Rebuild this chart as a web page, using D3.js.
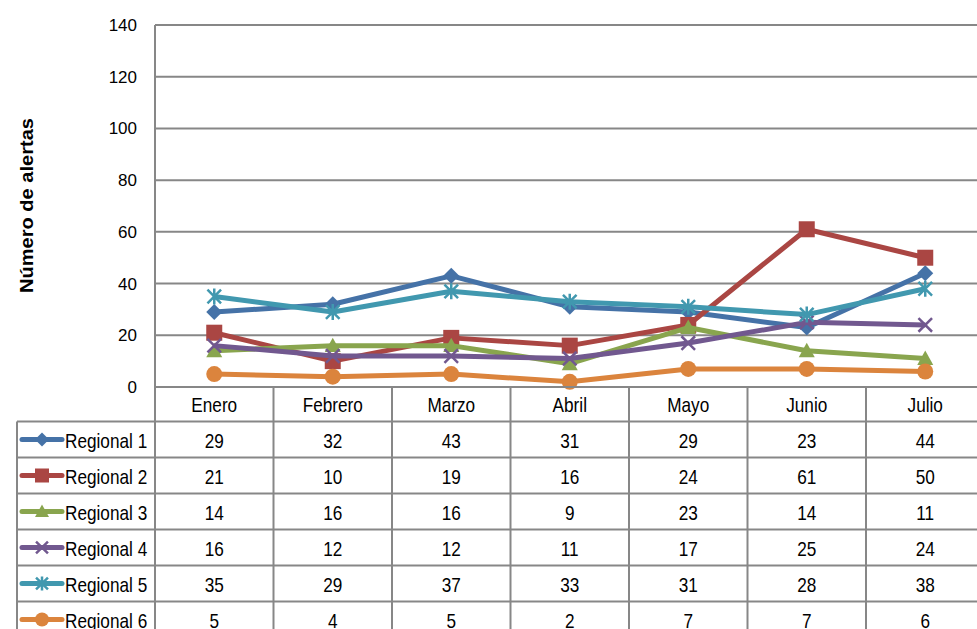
<!DOCTYPE html>
<html>
<head>
<meta charset="utf-8">
<script src="https://d3js.org/d3.v7.min.js"></script>
<style>
  body { margin: 0; background: #fff; }
  text { font-family: "Liberation Sans", Arial, sans-serif; fill: #000; }
</style>
</head>
<body>
<div id="chart"></div>
<script>
const months = ["Enero", "Febrero", "Marzo", "Abril", "Mayo", "Junio", "Julio"]
const seriesNames = ["Regional 1", "Regional 2", "Regional 3", "Regional 4", "Regional 5", "Regional 6"]
const regional1 = [29, 32, 43, 31, 29, 23, 44]
const regional2 = [21, 10, 19, 16, 24, 61, 50]
const regional3 = [14, 16, 16, 9, 23, 14, 11]
const regional4 = [16, 12, 12, 11, 17, 25, 24]
const regional5 = [35, 29, 37, 33, 31, 28, 38]
const regional6 = [5, 4, 5, 2, 7, 7, 6]
const yTicks = [0, 20, 40, 60, 80, 100, 120, 140]
const yTitle = "Número de alertas"

const colors = ["#4572A7", "#AA4643", "#89A54E", "#71588F", "#4198AF", "#DB843D"]
const shapes = ["diamond", "square", "triangle", "x", "star", "circle"]
const allValues = [regional1, regional2, regional3, regional4, regional5, regional6]
const series = seriesNames.map((name, i) => ({ name, values: allValues[i], color: colors[i], shape: shapes[i] }))

const W = 977, H = 629
const plotLeft = 155, colW = 118.5
const plotTop = 25, plotBottom = 387
const headerH = 34.5, rowH = 36
const tableLeft = 17
const gridColor = "#878787"
const narrow = 0.86   // squeeze table text like Arial Narrow

const svg = d3.select("#chart").append("svg").attr("width", W).attr("height", H)

const x = d3.scaleBand().domain(months).range([plotLeft, plotLeft + colW * months.length])
const y = d3.scaleLinear().domain([0, 140]).range([plotBottom, plotTop])
const rightEdge = plotLeft + colW * months.length

// gridlines
svg.append("g").selectAll("line").data(yTicks.filter(d => d > 0)).join("line")
  .attr("x1", plotLeft).attr("x2", rightEdge)
  .attr("y1", d => y(d)).attr("y2", d => y(d))
  .attr("stroke", gridColor).attr("stroke-width", 2)

svg.append("line").attr("x1", plotLeft).attr("x2", plotLeft).attr("y1", plotTop).attr("y2", plotBottom)
  .attr("stroke", gridColor).attr("stroke-width", 2)

// y tick labels
svg.append("g").selectAll("text").data(yTicks).join("text")
  .attr("x", 137).attr("y", d => y(d)).attr("dy", "0.35em")
  .attr("text-anchor", "end").attr("font-size", 17).attr("fill", "#222").text(d => d)

svg.append("text")
  .attr("transform", `translate(33,${(118 + 293) / 2}) rotate(-90)`)
  .attr("text-anchor", "middle").attr("font-size", 18).attr("font-weight", "bold")
  .attr("textLength", 175).attr("lengthAdjust", "spacingAndGlyphs")
  .text(yTitle)

function drawMarker(g, shape, color, cx, cy, s) {
  if (shape === "diamond") {
    g.append("path").attr("d", `M${cx},${cy - s}L${cx + s},${cy}L${cx},${cy + s}L${cx - s},${cy}Z`).attr("fill", color)
  } else if (shape === "square") {
    g.append("rect").attr("x", cx - s).attr("y", cy - s).attr("width", 2 * s).attr("height", 2 * s).attr("fill", color)
  } else if (shape === "triangle") {
    g.append("path").attr("d", `M${cx},${cy - s}L${cx + s},${cy + s * 0.8}L${cx - s},${cy + s * 0.8}Z`).attr("fill", color)
  } else if (shape === "x") {
    const k = s * 0.85
    g.append("path").attr("d", `M${cx - k},${cy - k}L${cx + k},${cy + k}M${cx - k},${cy + k}L${cx + k},${cy - k}`)
      .attr("stroke", color).attr("stroke-width", 2.5)
  } else if (shape === "star") {
    const k = s * 0.85
    g.append("path").attr("d", `M${cx - k},${cy - k}L${cx + k},${cy + k}M${cx - k},${cy + k}L${cx + k},${cy - k}M${cx},${cy - s}L${cx},${cy + s}`)
      .attr("stroke", color).attr("stroke-width", 2.5)
  } else {
    g.append("circle").attr("cx", cx).attr("cy", cy).attr("r", s).attr("fill", color)
  }
}

const line = d3.line().x((d, i) => x(months[i]) + x.bandwidth() / 2).y(d => y(d))

series.forEach(s => {
  const g = svg.append("g")
  g.append("path").datum(s.values).attr("d", line)
    .attr("fill", "none").attr("stroke", s.color).attr("stroke-width", 5).attr("stroke-linejoin", "round")
  s.values.forEach((v, i) => drawMarker(g, s.shape, s.color, x(months[i]) + x.bandwidth() / 2, y(v), 8))
})

// data table
const tableTop = plotBottom
const rowsTop = tableTop + headerH
const tableBottom = rowsTop + rowH * series.length
const tg = svg.append("g")

tg.append("line").attr("x1", plotLeft).attr("x2", rightEdge).attr("y1", tableTop).attr("y2", tableTop)
  .attr("stroke", gridColor).attr("stroke-width", 2)
d3.range(series.length + 1).forEach(r => {
  tg.append("line").attr("x1", tableLeft).attr("x2", rightEdge)
    .attr("y1", rowsTop + r * rowH).attr("y2", rowsTop + r * rowH)
    .attr("stroke", gridColor).attr("stroke-width", 2)
})
months.forEach(m => {
  tg.append("line").attr("x1", x(m) + colW).attr("x2", x(m) + colW).attr("y1", tableTop).attr("y2", tableBottom)
    .attr("stroke", gridColor).attr("stroke-width", 2)
})
tg.append("line").attr("x1", plotLeft).attr("x2", plotLeft).attr("y1", tableTop).attr("y2", tableBottom)
  .attr("stroke", gridColor).attr("stroke-width", 2)
tg.append("line").attr("x1", tableLeft).attr("x2", tableLeft).attr("y1", rowsTop).attr("y2", tableBottom)
  .attr("stroke", gridColor).attr("stroke-width", 2)

function cellText(g, tx, ty, txt, anchor) {
  g.append("text")
    .attr("transform", `translate(${tx},${ty}) scale(${narrow},1)`)
    .attr("dy", "0.35em").attr("text-anchor", anchor).attr("font-size", 20).text(txt)
}

months.forEach(m => cellText(tg, x(m) + x.bandwidth() / 2, tableTop + headerH / 2 + 1, m, "middle"))

series.forEach((s, r) => {
  const cy = rowsTop + r * rowH + rowH / 2
  const lg = tg.append("g")
  lg.append("line").attr("x1", 22).attr("x2", 62).attr("y1", cy).attr("y2", cy)
    .attr("stroke", s.color).attr("stroke-width", 5).attr("stroke-linecap", "round")
  drawMarker(lg, s.shape, s.color, 42, cy, 7)
  cellText(lg, 65, cy + 1, s.name, "start")
  s.values.forEach((v, i) => cellText(tg, x(months[i]) + x.bandwidth() / 2, cy + 1, v, "middle"))
})
</script>
</body>
</html>
